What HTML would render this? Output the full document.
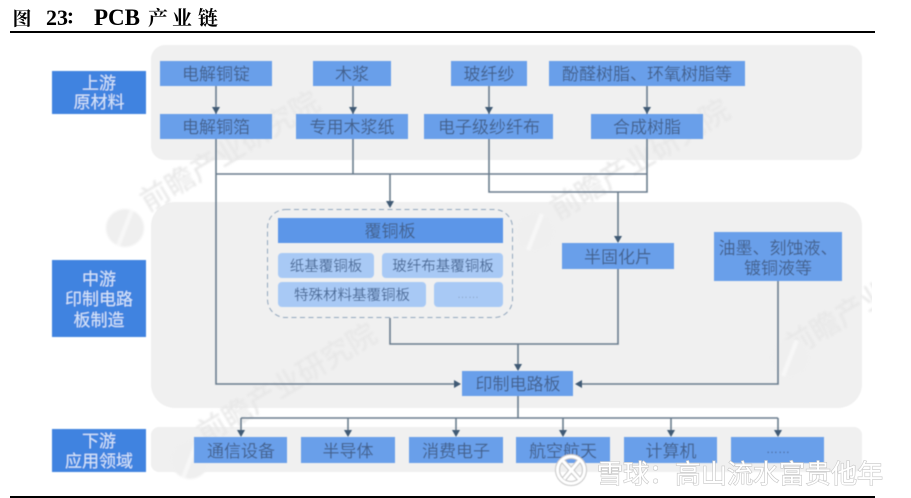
<!DOCTYPE html>
<html><head><meta charset="utf-8">
<style>
html,body{margin:0;padding:0;background:#fff}
#c{display:block;width:911px;height:498px;overflow:hidden}
text{font-family:"Liberation Sans","Noto Sans CJK SC",sans-serif;text-anchor:middle}
.t{font-size:17px;fill:#44628e}
.l{font-size:17px;fill:#d6e5fa}
.s{font-size:14.5px;fill:#4a6a98}
.w{font-size:29px;fill:#e6e6e6}
.ttl{font-family:"Liberation Serif","Noto Serif CJK SC",serif;font-weight:bold;fill:#000}
.ln{fill:none;stroke:#6b7d8e;stroke-width:1.6}
.ar{fill:#3f5a75}
</style></head><body>
<svg id="c" xmlns="http://www.w3.org/2000/svg" width="911" height="498" viewBox="0 0 911 498">
<defs>
<filter id="b" x="-5%" y="-5%" width="110%" height="110%"><feGaussianBlur stdDeviation="0.5"/></filter>
<filter id="b2" x="-5%" y="-5%" width="110%" height="110%"><feGaussianBlur stdDeviation="1"/></filter>
<clipPath id="cp"><rect x="0" y="0" width="872" height="498"/></clipPath>
</defs>
<rect width="911" height="498" fill="#fff"/>
<g filter="url(#b)">
<rect x="151" y="45" width="711" height="115" rx="14" fill="#f0f0f0"/>
<rect x="151" y="202" width="711" height="206" rx="24" fill="#f0f0f0"/>
<rect x="151" y="427" width="711" height="45" rx="8" fill="#f0f0f0"/>
</g>
<g filter="url(#b2)" clip-path="url(#cp)">
<text class="w" transform="translate(235,160) rotate(-31)">前瞻产业研究院</text>
<text class="w" transform="translate(292,392) rotate(-31)">前瞻产业研究院</text>
<text class="w" transform="translate(645,168) rotate(-31)">前瞻产业研究院</text>
<text class="w" transform="translate(880,305) rotate(-31)">前瞻产业研究院</text>
<g fill="#efefef">
<circle cx="125" cy="228" r="19"/><circle cx="190" cy="460" r="19"/><circle cx="535" cy="232" r="19"/><circle cx="790" cy="358" r="19"/>
</g>
<g stroke="#f8f8f8" stroke-width="4">
<path d="M118 246L132 210M183 478L197 442M528 250L542 214M783 376L797 340"/>
</g>
</g>
<g filter="url(#b)">
<g fill="#3f83e0">
<rect x="52" y="71" width="94" height="43"/>
<rect x="52" y="260" width="94" height="77"/>
<rect x="52" y="429" width="94" height="43"/>
</g>
<g class="ln">
<path d="M216 86V114M353 86V114M489 86V114M647 86V114"/>
<path d="M216 139V384H456"/>
<path d="M353 139V174M216 174H647M647 139V192H489V139"/>
<path d="M390 174V204"/>
<path d="M618 192V238"/>
<path d="M390 318V344H618V269"/>
<path d="M518 344V366"/>
<path d="M778 281V384H580"/>
<path d="M518 396V418M241 418H778M241 418V432M348 418V432M456 418V432M563 418V432M671 418V432M778 418V432"/>
</g>
<g class="ar">
<path d="M212 107H220L216 114Z"/><path d="M349 107H357L353 114Z"/><path d="M485 107H493L489 114Z"/><path d="M643 107H651L647 114Z"/>
<path d="M386 201H394L390 208Z"/><path d="M614 236H622L618 243Z"/><path d="M514 364H522L518 371Z"/>
<path d="M454 380V388L461 384Z"/><path d="M582 380V388L575 384Z"/>
<path d="M237 430H245L241 437Z"/><path d="M344 430H352L348 437Z"/><path d="M452 430H460L456 437Z"/><path d="M559 430H567L563 437Z"/><path d="M667 430H675L671 437Z"/><path d="M774 430H782L778 437Z"/>
</g>
<g fill="#699fea">
<rect x="160" y="61" width="112" height="25"/><rect x="313" y="61" width="78" height="25"/><rect x="451" y="61" width="76" height="25"/><rect x="549" y="61" width="196" height="25"/>
<rect x="160" y="114" width="112" height="25"/><rect x="296" y="114" width="112" height="25"/><rect x="424" y="114" width="129" height="25"/><rect x="591" y="114" width="112" height="25"/>
<rect x="562" y="243" width="112" height="26"/><rect x="714" y="232" width="128" height="49"/><rect x="462" y="371" width="111" height="25"/>
<rect x="194" y="437" width="93" height="26"/><rect x="301" y="437" width="94" height="26"/><rect x="409" y="437" width="94" height="26"/><rect x="516" y="437" width="94" height="26"/><rect x="624" y="437" width="93" height="26"/><rect x="731" y="437" width="93" height="26"/>
<rect x="278" y="218" width="225" height="25" fill="#5b96e8"/>
</g>
<rect x="267.500" y="209.500" width="245" height="108" rx="18" fill="none" stroke="#93a7bd" stroke-width="1" stroke-dasharray="5 3.500"/>
<g fill="#a8c9f5">
<rect x="278" y="253" width="96" height="25" rx="4"/><rect x="382" y="253" width="121" height="25" rx="4"/>
<rect x="278" y="282" width="148" height="25" rx="4"/><rect x="434" y="282" width="69" height="25" rx="4"/>
</g>
<g class="l">
<text x="99" y="89">上游</text><text x="99" y="108">原材料</text>
<text x="99" y="285">中游</text><text x="99" y="305">印制电路</text><text x="99" y="326">板制造</text>
<text x="99" y="447">下游</text><text x="99" y="467">应用领域</text>
</g>
<g class="t">
<text x="216" y="80">电解铜锭</text><text x="352" y="80">木浆</text><text x="489" y="80">玻纤纱</text><text x="647" y="80">酚醛树脂、环氧树脂等</text>
<text x="216" y="133">电解铜箔</text><text x="352" y="133">专用木浆纸</text><text x="489" y="133">电子级纱纤布</text><text x="647" y="133">合成树脂</text>
<text x="390" y="237">覆铜板</text>
<text x="618" y="263">半固化片</text>
<text x="778" y="254">油墨、刻蚀液、</text><text x="778" y="274">镀铜液等</text>
<text x="518" y="390">印制电路板</text>
<text x="241" y="457">通信设备</text><text x="348" y="457">半导体</text><text x="456" y="457">消费电子</text><text x="563" y="457">航空航天</text><text x="671" y="457">计算机</text><text x="778" y="453" style="font-size:12px">……</text>
</g>
<g class="s">
<text x="326" y="271">纸基覆铜板</text><text x="443" y="271">玻纤布基覆铜板</text><text x="352" y="300">特殊材料基覆铜板</text><text x="468" y="298" style="font-size:11px;fill:#8aa3c4">……</text>
</g>
<g fill="none" stroke="#c4c4c4" stroke-width="5">
<circle cx="571" cy="470" r="13.500"/>
<path d="M563 461L581 481M579 461L564 479"/>
</g>
<g fill="none" stroke="#fff" stroke-width="3">
<circle cx="571" cy="470" r="13.500"/>
<path d="M563 461L581 481M579 461L564 479"/>
</g>
</g>
<text x="740" y="483" style="font-size:26px;fill:#fff;stroke:#c6c6c6;stroke-width:1.2;paint-order:stroke">雪球：高山流水富贵他年</text>
<text class="ttl" x="22" y="25" style="font-size:19px">图</text>
<text class="ttl" x="46" y="25" style="font-size:22px;text-anchor:start">23</text>
<text class="ttl" x="75" y="24" style="font-size:20px">：</text>
<text class="ttl" x="94" y="25" style="font-size:23px;text-anchor:start">PCB</text>
<text class="ttl" x="158" y="25" style="font-size:20px">产</text>
<text class="ttl" x="182" y="25" style="font-size:20px">业</text>
<text class="ttl" x="208" y="25" style="font-size:20px">链</text>
<rect x="10" y="31" width="865" height="2" fill="#000"/>
<rect x="10" y="496" width="865" height="2" fill="#000"/>
</svg>
</body></html>
